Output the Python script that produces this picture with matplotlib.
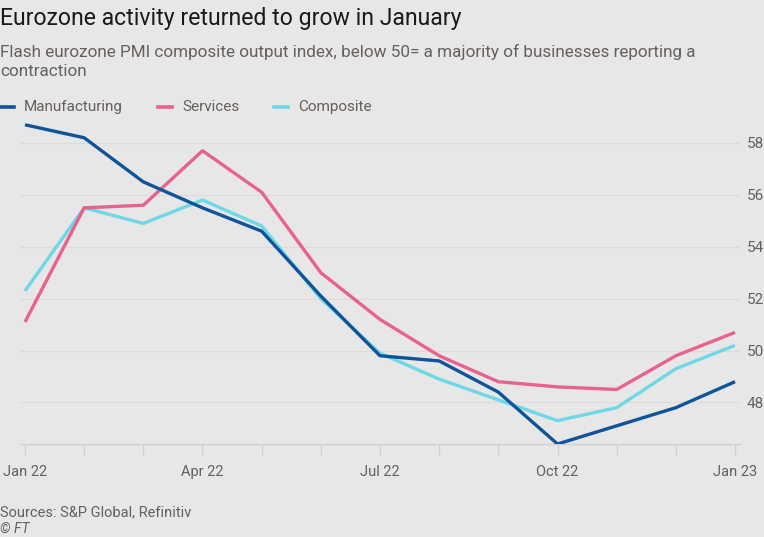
import numpy as np
import matplotlib
matplotlib.use("Agg")
import matplotlib.pyplot as plt

plt.rcParams['font.family'] = ['Roboto', 'DejaVu Sans']

months = ['Jan 22', 'Feb 22', 'Mar 22', 'Apr 22', 'May 22', 'Jun 22', 'Jul 22',
          'Aug 22', 'Sep 22', 'Oct 22', 'Nov 22', 'Dec 22', 'Jan 23']
manufacturing = [58.7, 58.2, 56.5, 55.5, 54.6, 52.1, 49.8, 49.6, 48.4, 46.4, 47.1, 47.8, 48.8]
services = [51.1, 55.5, 55.6, 57.7, 56.1, 53.0, 51.2, 49.8, 48.8, 48.6, 48.5, 49.8, 50.7]
composite = [52.3, 55.5, 54.9, 55.8, 54.8, 52.0, 49.9, 48.9, 48.1, 47.3, 47.8, 49.3, 50.2]
yticks = [48, 50, 52, 54, 56, 58]

bg = '#e7e7e7'
c_man = '#0f5499'
c_ser = '#e8638c'
c_com = '#6fd8e6'
grey = '#66605c'

fig = plt.figure(figsize=(7.64, 5.37), dpi=100, facecolor=bg)
ax = fig.add_axes([20/764, 1-444/537, 720/764, (444-117)/537])
ax.set_facecolor(bg)

x = np.arange(len(months))
ax.plot(x, composite, color=c_com, lw=2.4, solid_capstyle='butt', zorder=3)
ax.plot(x, services, color=c_ser, lw=2.4, solid_capstyle='butt', zorder=4)
ax.plot(x, manufacturing, color=c_man, lw=2.4, solid_capstyle='butt', zorder=5)

ax.set_xlim(-0.0845, 12.0845)
ax.set_ylim(46.4, 59.0)

for s in ['top', 'left', 'right']:
    ax.spines[s].set_visible(False)
ax.spines['bottom'].set_color('#d4cfcc')
ax.spines['bottom'].set_linewidth(1)

ax.set_xticks(x)
ax.set_xticklabels([m if i % 3 == 0 else '' for i, m in enumerate(months)])
ax.tick_params(axis='x', length=8, width=1, color='#d4cfcc', pad=7,
               labelsize=10.5, labelcolor=grey)

ax.yaxis.tick_right()
ax.set_yticks(yticks)
ax.tick_params(axis='y', length=0, pad=5, labelsize=11, labelcolor=grey)
ax.grid(axis='y', color='#dedad8', lw=0.8)
ax.set_axisbelow(True)

fig.text(0, 1-18/537, 'Eurozone activity returned to grow in January',
         fontsize=16.6, color='#1a1a1a', va='center', ha='left')
fig.text(0, 1-52/537, 'Flash eurozone PMI composite output index, below 50= a majority of businesses reporting a',
         fontsize=12.3, color=grey, va='center', ha='left')
fig.text(0, 1-72/537, 'contraction', fontsize=12.3, color=grey, va='center', ha='left')

# legend
ly = 1-107/537
for lx, tx, col, lab in [(0, 24, c_man, 'Manufacturing'),
                         (158, 182, c_ser, 'Services'),
                         (274, 298, c_com, 'Composite')]:
    fig.add_artist(plt.Line2D([lx/764, (lx+14)/764], [ly, ly], color=col, lw=2.6,
                              transform=fig.transFigure))
    fig.text(tx/764, ly, lab, fontsize=11, color=grey, va='center', ha='left')

fig.text(0, 1-512/537, 'Sources: S&P Global, Refinitiv', fontsize=10.5, color=grey,
         va='center', ha='left')
fig.text(0, 1-529/537, '© FT', fontsize=10, color=grey, style='italic',
         va='center', ha='left')

fig.savefig('out.png', dpi=100, facecolor=bg)
